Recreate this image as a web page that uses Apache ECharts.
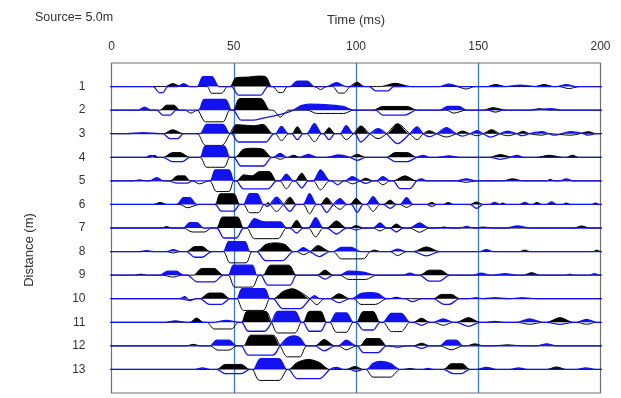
<!DOCTYPE html>
<html>
<head>
<meta charset="utf-8">
<script src="https://cdn.jsdelivr.net/npm/echarts@6/dist/echarts.min.js"></script>
<style>html,body{margin:0;padding:0;background:#fff}#c{width:621px;height:398px}</style>
</head>
<body>
<div id="c"></div>
<script>
// Distances (m) of the 13 receivers
const distances = [1,2,3,4,5,6,7,8,9,10,11,12,13];
const timeTicks = [0,50,100,150,200];
// Each trace: flat list of [time (ms), amplitude] vertices.
// Blue = first-polarity record, black = reversed-polarity record.
const blue1 = [17,0, 19.5,-6, 21,-6, 23,0, 27,0, 29.5,3, 32,0, 35,0, 37.5,10, 41,10, 44,0, 49,0, 52,-8.5, 61,-8.5, 64,0, 73,0, 76,5.5, 80,5.5, 83,0, 88,0, 92,4, 96,0, 105.5,0, 108,-4.3, 113,-4.3, 115.5,0, 134,0, 138,2.5, 142.5,0, 161,0, 167,1.5, 174,0, 182,0, 186,2, 190,0];
const black1 = [22,0, 25,3, 28.5,0, 39,0, 41,-6.7, 45,-6.7, 47.5,0, 48.5,0, 51,9, 56,9.5, 60,10.5, 63,10, 65.5,0, 66,0, 68.5,-6, 70,-6, 72,0, 83,0, 85.5,-3, 88,0, 90.5,0, 93,-6.5, 95,-6.5, 97.5,0, 100.5,4.3, 103.5,0, 110,0, 116,3.3, 122.5,0, 141,0, 145,-2.5, 148.5,0, 153.5,0, 157,2, 161.5,0, 173,0, 177,2, 181,0, 183,0, 187,-2, 191.5,0];
const blue2 = [11,0, 13.5,3, 16,0, 18.5,0, 21,-5, 24,-5, 26.5,0, 35.5,0, 38,10.7, 46.5,10.7, 49.1,0, 49.8,0, 53,-10, 58,-10, 62,-8, 66,-6, 71,-3, 74.4,0, 77.5,4.5, 81,6, 90,5, 95,3.5, 99,0, 108,0, 111,-5, 120,-5, 124.8,0, 134.3,0, 137.5,3.7, 142,3.7, 145.2,0, 154,0, 157,-2, 160,0, 171,0, 180,1.5, 184,0];
const black2 = [19.8,0, 22.5,5, 25.5,5, 28,0, 30,0, 32.5,-3, 35,0, 38.5,-11.7, 45.5,-11.7, 48.4,0, 49.8,0, 52.5,11.7, 61,11.7, 64.8,0, 66,0, 69,-7, 72.5,0, 80,0, 84,-3.3, 95,-3.3, 99,0, 107,0, 111,3.7, 121,3.7, 124.8,0, 137,0, 140,-3, 145,0, 152,0, 156,2.5, 161.6,0, 171,0, 175,1.5, 179,0];
const blue3 = [6,0, 13,1, 20,0, 21,0, 24,-5, 27,-5, 29.5,0, 36.2,0, 39,9.3, 45.5,9.3, 48.4,0, 49,0, 52,-8.3, 63,-8.3, 66.5,0, 67,0, 69.5,7.3, 72.3,0, 73.7,0, 76,-6, 78.4,0, 79.8,0, 83,10, 86,0, 86.6,0, 89,-6, 91.4,0, 93.4,0, 96,8, 98.9,0, 99.5,0, 102,-8.3, 105.7,0, 109,5, 112.5,0, 117,-10, 122,0, 125,6.7, 127.5,0, 130,-3, 133,0, 137,6, 141,0, 143.5,-2.5, 146.6,0, 149.5,3, 152,0, 155,-3.5, 158.8,0, 162,2.5, 165.7,0, 168,-2, 171,0, 176,2, 179,0, 181,-1.5, 184,0, 188,2, 193,0, 195,-1.5, 198.4,0];
const black3 = [21.2,0, 25,4, 29.4,0, 35,0, 38.5,-11.7, 45,-11.7, 48.4,0, 51,9, 55,8.5, 58,8, 62,9.3, 66,0, 67,0, 69.5,-7, 72.5,0, 73.7,0, 76,7, 78.4,0, 79.8,0, 83,-8, 86,0, 86.6,0, 89,6, 91.4,0, 93.4,0, 96,-6, 98.9,0, 102,7.7, 105.7,0, 109,-5, 112.5,0, 117,10, 122,0, 125,-6, 127.5,0, 130,3, 133,0, 137,-3.3, 141,0, 143.5,2.7, 146.6,0, 149.5,-2, 152,0, 155.5,4, 158.8,0, 162,-2, 165.7,0, 168.3,2.5, 171,0, 176,-1.5, 179,0, 188,-1.5, 191.5,0, 195,2, 198.4,0];
const blue4 = [14,0, 16,2, 18,0, 21,0, 25,-4.3, 29,-4.3, 32,0, 36.2,0, 38.5,11.3, 46,11.3, 48.4,0, 50,0, 53,-8.7, 62,-8.7, 65.5,0, 66.2,0, 69,4, 71.6,0, 77,0, 80.5,3, 84,0, 88,0, 93,2.3, 97.5,0, 100.5,-3, 104,0, 112.5,0, 116,-4.3, 121,-4.3, 124.8,0, 127.5,2, 130,0, 133,0, 138,1.5, 142.5,0, 155,0, 159,-2, 163,0, 166,2, 168.5,0];
const black4 = [15.7,0, 17.5,2, 19.2,0, 21.2,0, 25,4.7, 28,4.7, 32,0, 36.2,0, 39,-10, 46,-10, 48.4,0, 50.5,0, 54,8, 58,9, 62,8, 65.5,0, 66.5,0, 69,-2, 71.6,0, 72,0, 74.5,2, 77,0, 97.5,0, 100.5,3, 104,0, 112.5,0, 116,4.7, 121,4.7, 124.8,0, 154.7,0, 159,2.7, 164,0, 173.8,0, 179,2, 184.7,0, 186,0, 188.5,2, 191,0];
const blue5 = [15.7,0, 18.5,3.3, 21.2,0, 23,0, 27,-2.3, 31,-2.3, 33,0, 40.3,0, 42.5,11, 48,11, 50,0, 51,0, 54,-8, 64,-8, 67.5,0, 68.9,0, 71.5,6.7, 74.4,0, 75,0, 77.8,-7, 80.5,0, 82.5,0, 85.5,11, 89.3,0, 90,0, 92.5,-4, 95,0, 95.5,0, 98.5,4.3, 101.6,0, 104,-2.5, 107,0, 108.4,0, 111,4.3, 113.9,0, 115.2,0, 118,-7.7, 122,-7.7, 124.8,0, 126.8,2, 128.8,0, 141,0, 145,2, 149.3,0, 183.4,0, 186,2, 188.8,0];
const black5 = [9,0, 11.5,1, 14,0, 24,0, 27,5, 30,5, 32,0, 33,0, 36,-3, 40,0, 40.3,0, 43,-10.7, 48,-10.7, 50,0, 51.2,0, 54,6, 57.5,5, 60.5,9.3, 64.5,9.3, 67.5,0, 68.9,0, 71.5,-8, 74.4,0, 75,0, 77.8,7.7, 80.5,0, 82.5,0, 85.5,-9, 89.3,0, 95.5,0, 98.5,-3, 101.6,0, 104,2.7, 107,0, 108.4,0, 111,-4, 113.9,0, 115.2,0, 120,5, 124.8,0, 141,0, 145,-1.5, 149.3,0, 160,0, 164,2, 168.4,0, 178,0, 179.5,1.5, 181,0];
const blue6 = [26.6,0, 29.5,6.7, 32,6.7, 34.8,0, 42.3,0, 45,-6.7, 50,-6.7, 52.5,0, 54,0, 56.5,10.7, 59.5,10.7, 62,0, 62.5,0, 63.5,-2, 64.8,0, 67.5,7.3, 70.3,0, 73,-7, 75.7,0, 78.4,0, 81,10.7, 83.9,0, 85.3,0, 88,-8, 90.7,0, 93.5,5.7, 96.2,0, 98,0, 100.5,-8, 103,0, 104.3,0, 107,7.7, 109.8,0, 111.1,0, 114,-4, 116.6,0, 118,0, 120.7,6.7, 123.4,0, 128.8,0, 131,-2, 133,0, 146.6,0, 149.3,-4, 152,0, 154.7,0, 156.7,2, 158.8,0, 167,0, 169,2, 171,0, 178,0, 180,2.5, 182,0];
const black6 = [17.1,0, 20,2, 22.6,0, 28,0, 31,-3.3, 36,0, 42.3,0, 44.5,10.7, 50,10.7, 52.5,0, 54,0, 56.5,-8.3, 60,-8.3, 62.5,0, 63,0, 64,2, 64.8,0, 67.5,-7, 70.3,0, 73,7.3, 75.7,0, 78.4,0, 81,-9.3, 83.9,0, 85.3,0, 88,6.7, 90.7,0, 93.5,-5, 96.2,0, 97.5,0, 100,6, 103,0, 104.3,0, 107,-7, 109.8,0, 111.1,0, 114,4.3, 116.6,0, 118,0, 120.7,-3, 123.4,0, 128.8,0, 131,2, 133,0, 135.7,0, 137.7,2, 139.8,0, 146.6,0, 149.3,2.5, 152,0, 158.8,0, 160,1.5, 161.5,0, 172,0, 174,2, 176,0, 184.7,0, 186,1.5, 187.5,0, 196.5,0, 198,1.5, 199.5,0];
const blue7 = [29.4,0, 32,5.3, 35,5.3, 37.6,0, 43,0, 46,-10, 51,-10, 54,0, 55.3,0, 58.5,9.3, 61,7, 64,6, 69,6, 71.6,0, 73,0, 75.7,-5, 78.4,0, 80.5,0, 83.5,10.3, 86.6,0, 88,0, 92,-6, 96.2,0, 97.5,0, 100,-2, 103,0, 107,0, 109.8,5, 112.5,0, 113.9,0, 116.5,-4, 119.3,0, 122,0, 126,5, 130,0, 142.5,0, 145.2,1.5, 148,0, 161.6,0, 166,2, 171,0];
const black7 = [20.5,0, 22.5,1.5, 24.6,0, 29.4,0, 33,-4, 38,-4, 41,0, 43,0, 45.5,11, 51.5,11, 54,0, 55.3,0, 58.5,-10.7, 68,-10.7, 71.6,0, 73,0, 75.7,7.7, 78.4,0, 80.5,0, 83.5,-9, 86.6,0, 88,0, 92,7, 96.2,0, 97.5,0, 100,2.5, 103,0, 107,0, 109.8,-3, 112.5,0, 113.9,0, 116.5,4, 119.3,0, 122,0, 126,-4.3, 130,0, 133,0, 136,1, 139,0, 148,0, 152,1, 156,0, 189,0, 192.3,2, 195.6,0];
const blue8 = [11.6,0, 14.3,1, 17.1,0, 22.6,0, 25.3,2, 28,0, 30.7,0, 34,-5.7, 37,-5.7, 41,0, 45.7,0, 48,10, 54.5,10, 56.6,0, 59.4,0, 63,-9, 70,-9, 74.4,0, 75.7,0, 78.5,4, 81.2,0, 85,-5, 89.3,0, 90.7,0, 94,4.3, 98,4.3, 101.6,0, 113.9,0, 117,2.5, 120.7,0, 123.4,0, 128.8,-4.3, 134.3,0, 150.7,0, 153.3,2, 156,0];
const black8 = [22.6,0, 25.3,-1.5, 28,0, 30.7,0, 34,5, 37,5, 40.3,0, 45.7,0, 48.5,-11.3, 55,-11.3, 57.5,0, 59.4,0, 63,7, 67,8.7, 71,7, 74.4,0, 75.7,0, 78.5,-3, 81.2,0, 84.5,6, 89.3,0, 90.7,0, 94,-7.3, 103,-7.3, 105.7,0, 107.7,1.5, 109.8,0, 113.9,0, 117,-4, 120.7,0, 123.4,0, 128.8,4.7, 134.3,0, 167,0, 169,1.5, 171,0, 197,0, 198.5,1.5, 200,0];
const blue9 = [19.8,0, 23,4, 26.5,4, 29.4,0, 31,0, 35,-6.7, 42,-6.7, 45.7,0, 47.8,0, 50,10, 57.5,10, 59.4,0, 61,0, 64,-10, 73,-10, 75.7,0, 84,0, 87.3,-4, 90.7,0, 93.4,0, 97,4, 103,3, 108.4,0, 119.3,0, 122,2, 124.8,0, 126,0, 130,-6, 134,-6, 138.4,0, 148,0, 151.3,2, 154.7,0, 156,0, 161,1.5, 165.7,0, 195.6,0, 197.5,1.5, 199.4,0];
const black9 = [9.6,0, 12,1, 14.4,0, 21,0, 25,-2, 29,0, 33.5,0, 37,6.7, 42,6.7, 45.7,0, 47.8,0, 50.5,-12, 57.5,-12, 60.5,0, 62,0, 65,10, 72.5,10, 75.7,0, 84,0, 87.3,5, 90.7,0, 93.4,0, 97,-4.3, 104,-4.3, 108.4,0, 126,0, 130,5, 134.5,5, 138.4,0, 168.4,0, 171.8,2.5, 175.2,0, 186,0, 187.5,1, 189,0];
const blue10 = [28,0, 30,2, 31,0, 32,-2, 34.8,0, 36.2,0, 40,-5.7, 45,-5.7, 48.4,0, 51.2,0, 53.5,10, 62.5,10, 64.8,0, 66,0, 70,-10, 77,-10, 81.2,0, 83,3, 85.3,0, 89.3,0, 93,-4, 97.5,0, 98.5,0, 102,5, 106,6, 109,5, 112.5,0, 120,0, 123,-3, 127,0, 131.6,0, 136,-5.7, 138,-5.7, 142.5,0, 152,0, 157,1, 162,0];
const black10 = [28,0, 31,-1.5, 34.8,0, 36.2,0, 40,5.7, 45,5.7, 48.4,0, 51.2,0, 54,-11.7, 62,-11.7, 64.8,0, 66.2,0, 70,7, 74,10, 77,7, 81.2,0, 84,-6, 87,0, 89.3,0, 93,5, 97.5,0, 99,0, 102,-5.7, 108,-5.7, 112.5,0, 113.9,0, 116.5,1.5, 119.3,0, 131.6,0, 135,4.3, 139,4.3, 142.5,0, 146,0, 149,1, 152,0, 163,0, 168,1, 174,0];
const blue11 = [22,0, 26,1.5, 30.7,0, 41.6,0, 47,2, 52.5,0, 53.2,0, 56,-9, 62.5,-9, 65.5,0, 68,11, 75,11, 77.7,0, 78.4,0, 81,-9, 85.5,-9, 88,0, 89.3,0, 92,9.3, 96,9.3, 98.9,0, 100,0, 103,-7.7, 107,-7.7, 109.8,0, 111.1,0, 114.5,9, 118.5,9, 122,0, 123.4,0, 126.8,-3, 130.2,0, 131.6,0, 135.7,3.3, 139.8,0, 141.1,0, 146,-4, 150.7,0, 153.4,0, 156.8,1, 160.2,0, 165.7,0, 171,3.3, 176.5,0, 178,0, 183.4,-2, 188.8,0, 190.2,0, 194.3,3, 198.4,0];
const black11 = [32,0, 34.8,4.3, 37.6,0, 39,0, 42,-6.7, 49,-6.7, 52,0, 53.2,0, 55.5,11, 63,11, 65.5,0, 68,-10.7, 75,-10.7, 77.7,0, 78.4,0, 81,11, 85.5,11, 88,0, 89.3,0, 92,-10, 96,-10, 98.9,0, 100.2,0, 103,10.7, 107,10.7, 109.8,0, 111.1,0, 114.5,-9.3, 118.5,-9.3, 122,0, 123.4,0, 126.8,4, 130.2,0, 131.6,0, 135.7,-3, 139.8,0, 141.1,0, 146,4.7, 150.7,0, 165.7,0, 171,-2, 176.5,0, 178,0, 183.4,4.7, 188.8,0, 190.2,0, 194.3,-2, 198.4,0];
const blue12 = [40.3,0, 43,5.7, 48,5.7, 51.2,0, 53,0, 56,-9.3, 66,-9.3, 68.9,0, 72,8, 74.5,10, 77,8, 79.8,0, 83.2,0, 87,-5, 91.4,0, 92.8,0, 96,5.7, 100.2,0, 100.5,0, 103,-6.7, 109,-6.7, 112.5,0, 123.4,0, 126.8,-2.5, 130.2,0, 134.3,0, 137.5,5.7, 141,5.7, 143.8,0, 173.8,0, 178,2, 182,0];
const black12 = [30.7,0, 33.5,1.5, 36.2,0, 40.3,0, 43.5,-4.3, 48,-4.3, 51.2,0, 54,0, 57,10.7, 66,10.7, 69,0, 72,-11, 77,-11, 79.8,0, 83.2,0, 87,6.3, 91.4,0, 92.8,0, 96,-4, 100.2,0, 101.6,0, 104.5,7.3, 109.5,7.3, 112.5,0, 113,0, 117,-1.5, 121,0, 123.4,0, 126.8,2.7, 130.2,0, 134.3,0, 139,-4, 143.8,0, 145.2,0, 148.6,2, 152,0, 156,0, 162,1, 168,0];
const blue13 = [34.1,0, 37.2,1.5, 40.3,0, 43,0, 46.5,-4.3, 53,-4.3, 56.6,0, 58,0, 61,10.7, 68.5,10.7, 71.6,0, 72.3,0, 76,-9.3, 85,-9.3, 89.3,0, 92,2, 94.8,0, 97.5,0, 100,-2, 103,0, 104.3,0, 107,6, 110,8, 114,6, 118,0, 127.5,0, 129.5,1, 131.5,0, 135.7,0, 140,-4.3, 143,-4.3, 146.6,0, 149.3,0, 153.4,2, 157.5,0, 163,0, 166.5,1.5, 170,0, 190.2,0, 194,1.5, 198,0];
const black13 = [43,0, 46.5,5, 53,5, 56.6,0, 57.5,0, 60.5,-11, 68.5,-11, 72,0, 72.3,0, 76,7, 80.5,10, 85,7, 89.3,0, 96,0, 99.5,3, 103,0, 104,0, 107,-7.7, 114,-7.7, 118,0, 119.3,0, 122,1, 124.8,0, 135.7,0, 139,5.7, 143.5,5.7, 146.6,0, 178,0, 182,2.5, 186,0];

const blueTraces = [blue1,blue2,blue3,blue4,blue5,blue6,blue7,blue8,blue9,blue10,blue11,blue12,blue13];
const blackTraces = [black1,black2,black3,black4,black5,black6,black7,black8,black9,black10,black11,black12,black13];

// display settings
const AMP = 1 / 23.6;              // amplitude units -> trace spacing
const T_START = -2, T_END = 201.5; // baseline extends slightly past the frame
const BLUE = '#1212ee', BLACK = '#000000';
const SMOOTH = 0.3;

function pairs(flat) {
  const out = [[T_START, 0]];
  for (let i = 0; i < flat.length; i += 2) out.push([flat[i], flat[i + 1]]);
  out.push([T_END, 0]);
  return out;
}

const series = [];
function addTrace(flat, row, color, z, lw) {
  const p = pairs(flat);
  series.push({
    type: 'line', silent: true, clip: false, showSymbol: false, smooth: SMOOTH, z: z,
    data: p.map(v => [v[0], row - Math.max(v[1], 0) * AMP]),
    lineStyle: { width: 0, opacity: 0 },
    areaStyle: { color: color, opacity: 1, origin: row },
    animation: false
  });
  series.push({
    type: 'line', silent: true, clip: false, showSymbol: false, smooth: SMOOTH, z: z + 1,
    data: p.map(v => [v[0], row - v[1] * AMP]),
    lineStyle: { width: lw, color: color },
    animation: false
  });
}
distances.forEach((d, i) => addTrace(blackTraces[i], d, BLACK, 3, 1));
distances.forEach((d, i) => addTrace(blueTraces[i], d, BLUE, 5, 1.3));

const FONT = 'Liberation Sans, Arial, sans-serif';
const chart = echarts.init(document.getElementById('c'), null, { renderer: 'canvas' });
chart.setOption({
  animation: false,
  backgroundColor: '#ffffff',
  title: {
    text: 'Source= 5.0m', left: 30, top: 6,
    textStyle: { fontFamily: FONT, fontSize: 12.5, fontWeight: 'normal', color: '#333' }
  },
  grid: { left: 111.5, right: 20.5, top: 63, bottom: 5, show: true, borderColor: '#707070', borderWidth: 1.2, backgroundColor: 'transparent' },
  xAxis: {
    type: 'value', position: 'top', min: 0, max: 200, interval: 50,
    name: 'Time (ms)', nameLocation: 'middle', nameGap: 36,
    nameTextStyle: { fontFamily: FONT, fontSize: 13, color: '#333' },
    axisLine: { show: false }, axisTick: { show: false },
    axisLabel: { margin: 10, fontFamily: FONT, fontSize: 12, color: '#333',
      formatter: v => timeTicks.includes(v) ? String(v) : '' },
    splitLine: { show: true, showMinLine: false, showMaxLine: false, lineStyle: { color: '#3a7cc4', width: 1.3 } }
  },
  yAxis: {
    type: 'value', inverse: true, min: 0, max: 14, interval: 1,
    axisLine: { show: false }, axisTick: { show: false }, splitLine: { show: false },
    axisLabel: { margin: 26, fontFamily: FONT, fontSize: 12, color: '#333',
      formatter: v => distances.includes(v) ? String(v) : '' }
  },
  graphic: [{
    type: 'text', x: 29, y: 250, rotation: Math.PI / 2,
    style: { text: 'Distance (m)', fontFamily: FONT, fontSize: 13, fill: '#333', align: 'center', verticalAlign: 'middle' }
  }],
  series: series
});
</script>
</body>
</html>
